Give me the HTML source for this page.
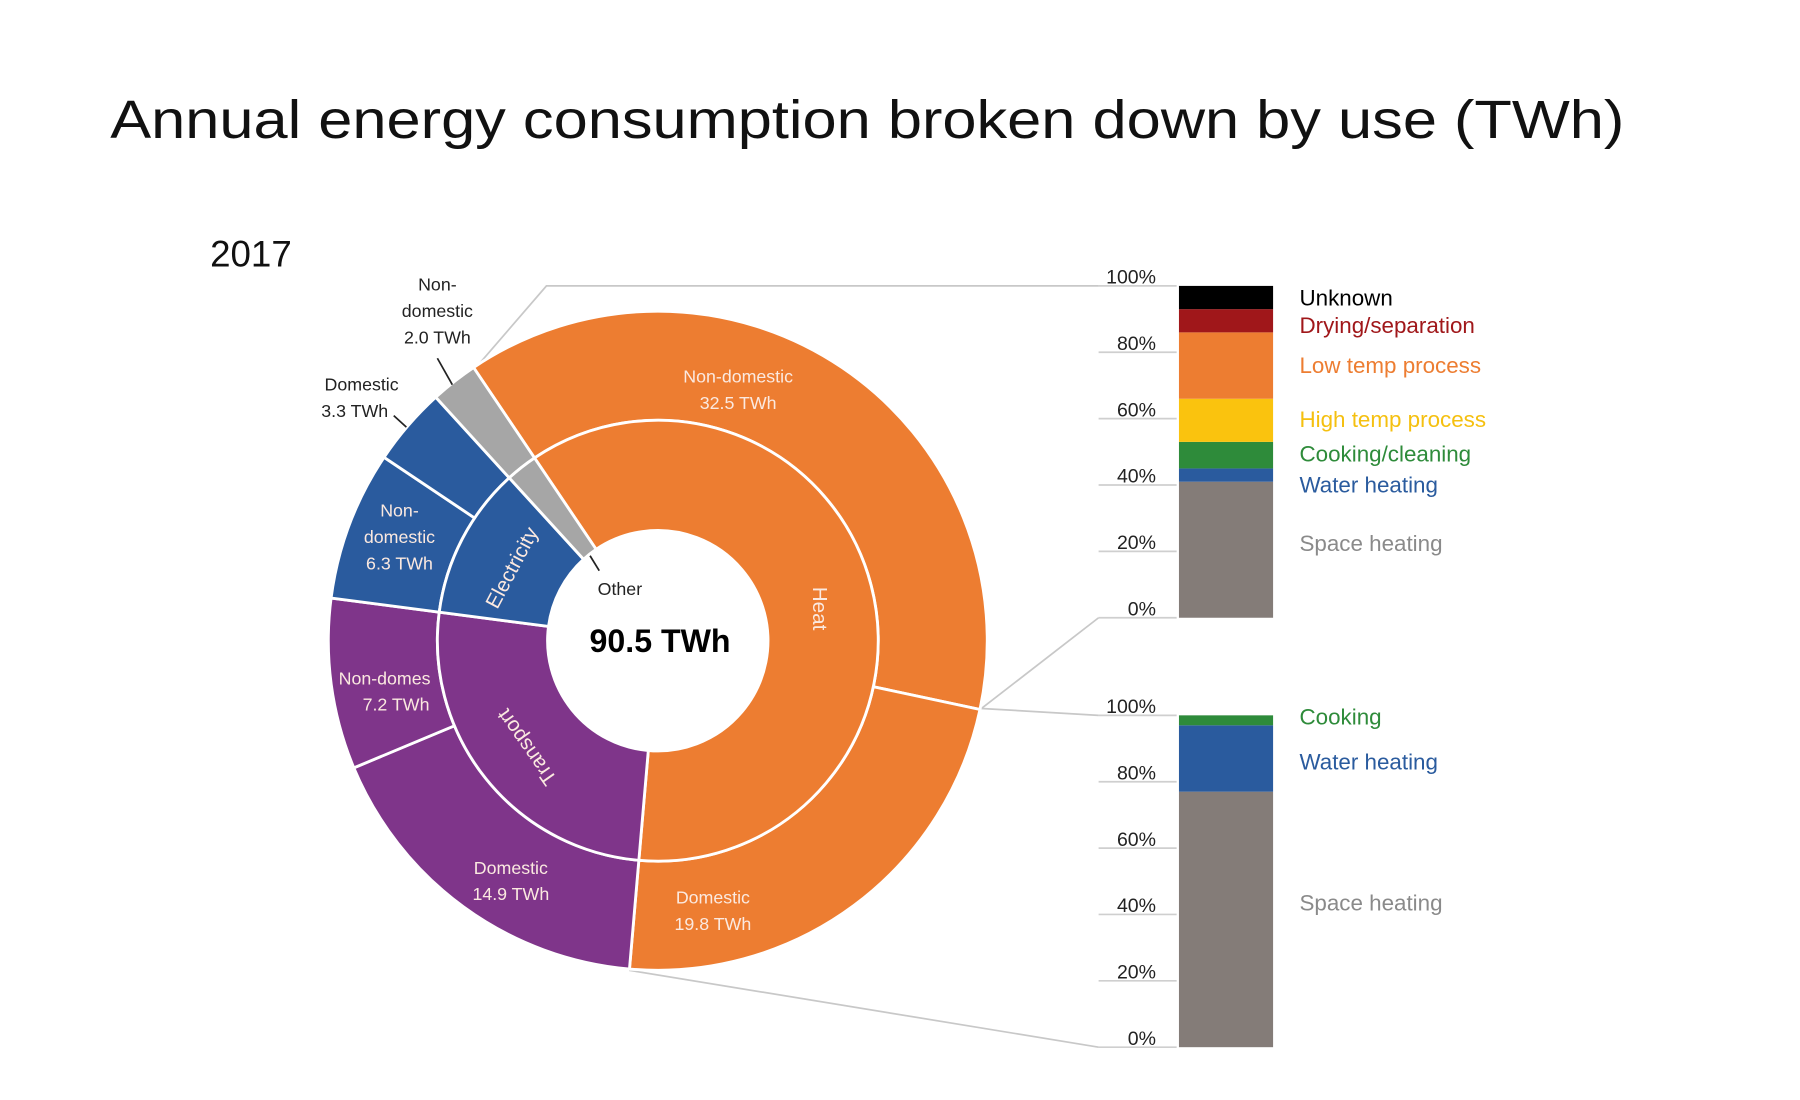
<!DOCTYPE html>
<html><head><meta charset="utf-8">
<style>
html,body{margin:0;padding:0;background:#fff;}
svg{display:block;font-family:"Liberation Sans",sans-serif;}
</style></head>
<body>
<svg id="chart" width="1800" height="1100" viewBox="0 0 1568 958" preserveAspectRatio="none" xmlns="http://www.w3.org/2000/svg">
<text x="96" y="120" font-size="47" font-weight="500" fill="#111" textLength="1319" lengthAdjust="spacingAndGlyphs">Annual energy consumption broken down by use (TWh)</text>
<text x="183" y="232" font-size="32" fill="#111">2017</text>
<g id="connectors" stroke="#c8c8c8" stroke-width="1.5" fill="none">
<polyline points="413,322 476,249 957,249"/>
<line x1="855" y1="617" x2="957" y2="538"/>
<line x1="855" y1="617" x2="957" y2="623"/>
<line x1="548" y1="845" x2="957" y2="912"/>
</g>
<g id="donut"></g>
<g id="labels" font-size="15.5"></g>
<g id="bars"></g>
</svg>
<script>
const outerNames = ["Heat non-domestic","Heat domestic","Transport domestic","Transport non-domestic","Electricity non-domestic","Electricity domestic","Other non-domestic"];
const outerValues = [32.5,19.8,14.9,7.2,6.3,3.3,2.0];
const outerGroups = [0,0,1,1,2,2,3];
const innerNames = ["Heat","Transport","Electricity","Other"];
const groupColors = ["#ED7D31","#7F358A","#2A5B9E","#A6A6A6"];
const totalLabel = "90.5 TWh";

const topCats = ["Space heating","Water heating","Cooking/cleaning","High temp process","Low temp process","Drying/separation","Unknown"];
const topValues = [41,4,8,13,20,7,7];
const topColors = ["#847C78","#2A5B9E","#2E8B3A","#FAC30E","#ED7D31","#A0171A","#000000"];
const botCats = ["Space heating","Water heating","Cooking"];
const botValues = [77,20,3];
const botColors = ["#847C78","#2A5B9E","#2E8B3A"];
const tickLabels = ["0%","20%","40%","60%","80%","100%"];
const tickValues = [0,20,40,60,80,100];

const NS="http://www.w3.org/2000/svg";
function mk(tag,attrs,parent){const e=document.createElementNS(NS,tag);for(const k in attrs)e.setAttribute(k,attrs[k]);parent.appendChild(e);return e;}
const cx=573,cy=558,R0=96,R1=192,R2=287,startDeg=-34;
const total=outerValues.reduce((a,b)=>a+b,0);
function ang(v){return startDeg+v/total*360;}
function pt(r,d){const a=d*Math.PI/180;return [cx+r*Math.sin(a),cy-r*Math.cos(a)];}
function arc(r1,r2,a1,a2){const l=(a2-a1)>180?1:0;const p1=pt(r2,a1),p2=pt(r2,a2),p3=pt(r1,a2),p4=pt(r1,a1);
return `M${p1[0]},${p1[1]}A${r2},${r2} 0 ${l} 1 ${p2[0]},${p2[1]}L${p3[0]},${p3[1]}A${r1},${r1} 0 ${l} 0 ${p4[0]},${p4[1]}Z`;}
const donut=document.getElementById('donut');
let acc=0;
outerValues.forEach((v,i)=>{
  const p=mk('path',{d:arc(R1,R2,ang(acc),ang(acc+v)),fill:groupColors[outerGroups[i]],stroke:'#fff','stroke-width':2.5},donut);
  
  
  acc+=v;
});
acc=0;
innerNames.forEach((n,g)=>{
  let s=0;outerValues.forEach((v,i)=>{if(outerGroups[i]===g)s+=v;});
  const p=mk('path',{d:arc(R0,R1,ang(acc),ang(acc+s)),fill:groupColors[g],stroke:'#fff','stroke-width':2.5},donut);
  
  
  acc+=s;
});
const L=document.getElementById('labels');
function txt(x,y,s,fill,extra){const t=mk('text',Object.assign({x:x,y:y,fill:fill,'text-anchor':'middle'},extra||{}),L);t.textContent=s;return t;}
const W='#fbe9e0';
[[643,333,"Non-domestic"],[643,356,"32.5 TWh"],[621,787,"Domestic"],[621,810,"19.8 TWh"],[445,761,"Domestic"],[445,784,"14.9 TWh"],[335,596,"Non-domes"],[345,619,"7.2 TWh"],[348,450,"Non-"],[348,473,"domestic"],[348,496,"6.3 TWh"]].forEach(a=>{
  const t=txt(a[0],a[1],a[2],W);
  
  
});
[[315,340,"Domestic"],[309,363,"3.3 TWh"],[381,253,"Non-"],[381,276,"domestic"],[381,299,"2.0 TWh"],[540,518,"Other"]].forEach(a=>{
  const t=txt(a[0],a[1],a[2],'#222');
  
  
});
[["Heat",713,530,90],["Electricity",447,495,-62],["Transport",460,650,-125]].forEach(a=>{
  const t=txt(a[1],a[2],a[0],W,{'font-size':18,'dominant-baseline':'middle',transform:`rotate(${a[3]} ${a[1]} ${a[2]})`});
  
  
});
[[381,312,394,335],[343,362,354,372],[514,484,522,497]].forEach(a=>{
  const l=mk('line',{x1:a[0],y1:a[1],x2:a[2],y2:a[3],stroke:'#222','stroke-width':1.5},L);
  
  
});
const ct=txt(575,568,totalLabel,'#000',{'font-size':28,'font-weight':'bold'});



const B=document.getElementById('bars');
function bar(y100,y0,cats,vals,cols,labelYs,name){
  const y=v=>y0-(y0-y100)*v/100;
  tickValues.forEach((tv,i)=>{
    const l=mk('line',{x1:957,x2:1025,y1:y(tv),y2:y(tv),stroke:'#cfcfcf','stroke-width':1.5},B);
    
    
    const t=mk('text',{x:1007,y:y(tv)-2,'text-anchor':'end','font-size':17,fill:'#222'},B);
    t.textContent=tickLabels[i];
    
    
  });
  let a=0;
  vals.forEach((v,i)=>{
    const r=mk('rect',{x:1027,width:82,y:y(a+v),height:y(a)-y(a+v),fill:cols[i]},B);
    
    
    const t=mk('text',{x:1132,y:labelYs[i],'font-size':19.5,fill:cols[i]==='#847C78'?'#8a8a8a':(cols[i]==='#FAC30E'?'#f5c010':cols[i])},B);
    t.textContent=cats[i];
    
    
    a+=v;
  });
}
bar(249,538,topCats,topValues,topColors,[480,429,402,372,325,290,266],'top-bar');
bar(623,912,botCats,botValues,botColors,[793,670,631],'bottom-bar');
</script>
</body></html>
